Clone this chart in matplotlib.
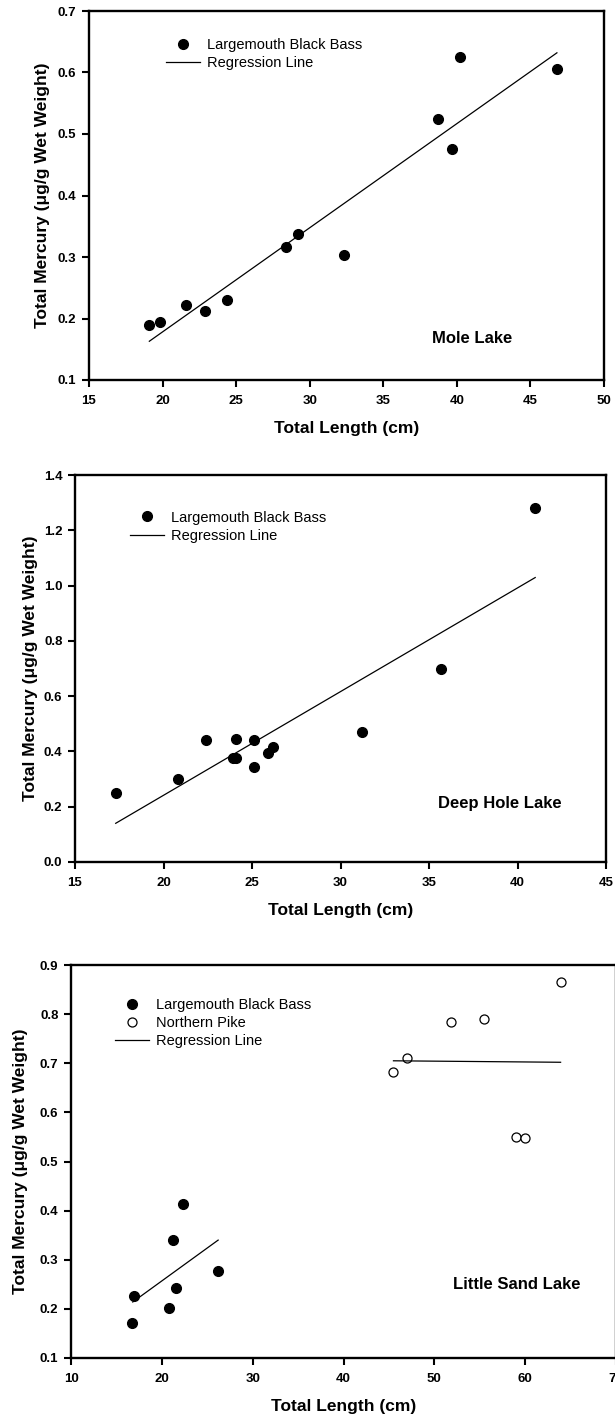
import matplotlib
matplotlib.use("Agg")
import matplotlib.pyplot as plt
from matplotlib.lines import Line2D
from matplotlib.ticker import FormatStrFormatter, MultipleLocator

plt.rcParams['font.family'] = ['Liberation Sans', 'DejaVu Sans']

# Mole Lake - largemouth black bass
mole_len = [19.1, 19.8, 21.6, 22.9, 24.4, 28.4, 29.2, 32.3, 38.7, 39.7, 40.2, 46.8]
mole_hg = [0.189, 0.195, 0.222, 0.212, 0.230, 0.316, 0.337, 0.303, 0.524, 0.475, 0.625, 0.606]
mole_fit_len = [19.1, 46.8]
mole_fit_hg = [0.163, 0.632]

# Deep Hole Lake - largemouth black bass
deep_len = [17.3, 20.8, 22.4, 23.9, 24.1, 24.1, 25.1, 25.1, 25.9, 26.2, 31.2, 35.7, 41.0]
deep_hg = [0.251, 0.300, 0.442, 0.377, 0.375, 0.446, 0.442, 0.345, 0.396, 0.415, 0.469, 0.698, 1.279]
deep_fit_len = [17.3, 41.0]
deep_fit_hg = [0.140, 1.029]

# Little Sand Lake - bass and pike
sand_bass_len = [16.7, 16.9, 20.8, 21.2, 21.6, 22.3, 26.2]
sand_bass_hg = [0.171, 0.226, 0.201, 0.340, 0.243, 0.414, 0.278]
sand_bass_fit_len = [16.8, 26.2]
sand_bass_fit_hg = [0.214, 0.340]
sand_pike_len = [45.5, 47.0, 51.8, 55.5, 59.0, 60.0, 63.9]
sand_pike_hg = [0.683, 0.710, 0.784, 0.790, 0.549, 0.547, 0.865]
sand_pike_fit_len = [45.5, 63.9]
sand_pike_fit_hg = [0.705, 0.702]

W, H = 615, 1425
fig = plt.figure(figsize=(W / 100, H / 100), dpi=100)


def px_axes(left, top, right, bottom):
    return fig.add_axes([left / W, 1 - bottom / H, (right - left) / W, (bottom - top) / H])


def style_axes(ax, xlim, ylim, xstep, ystep, yfmt):
    ax.set_xlim(*xlim)
    ax.set_ylim(*ylim)
    ax.xaxis.set_major_locator(MultipleLocator(xstep))
    ax.yaxis.set_major_locator(MultipleLocator(ystep))
    ax.yaxis.set_major_formatter(FormatStrFormatter(yfmt))
    for s in ax.spines.values():
        s.set_linewidth(1.7)
    ax.tick_params(direction='out', length=5, width=1.5, labelsize=9.5)
    ax.tick_params(axis='x', pad=6)
    ax.tick_params(axis='y', pad=4)
    for lab in ax.get_xticklabels() + ax.get_yticklabels():
        lab.set_fontweight('bold')
    ax.set_xlabel('Total Length (cm)', fontsize=12.5, fontweight='bold', labelpad=10)
    ax.set_ylabel('Total Mercury (\u03bcg/g Wet Weight)', fontsize=12.5, fontweight='bold')


bass_h = Line2D([], [], marker='o', color='black', linestyle='none', markersize=7)
pike_h = Line2D([], [], marker='o', markerfacecolor='white', markeredgecolor='black',
                markeredgewidth=0.9, linestyle='none', markersize=6.5)
reg_h = Line2D([], [], color='black', lw=0.9)


def add_legend(ax, handles, labels, x, y):
    ax.legend(handles, labels, loc='upper left', bbox_to_anchor=(x, y), frameon=False,
              fontsize=10.5, handlelength=2.3, handletextpad=0.5, labelspacing=0.3,
              borderpad=0, borderaxespad=0)


# Panel 1
ax1 = px_axes(89, 11, 604, 380)
ax1.plot(mole_len, mole_hg, 'o', color='black', markersize=7)
ax1.plot(mole_fit_len, mole_fit_hg, color='black', lw=0.9)
style_axes(ax1, (15, 50), (0.1, 0.7), 5, 0.1, '%.1f')
ax1.yaxis.set_label_coords(-0.075, 0.5)
add_legend(ax1, [bass_h, reg_h], ['Largemouth Black Bass', 'Regression Line'], 0.15, 0.927)
ax1.text(0.743, 0.113, 'Mole Lake', transform=ax1.transAxes, ha='center', va='center',
         fontsize=12, fontweight='bold')

# Panel 2
ax2 = px_axes(75, 475, 606, 862)
ax2.plot(deep_len, deep_hg, 'o', color='black', markersize=7)
ax2.plot(deep_fit_len, deep_fit_hg, color='black', lw=0.9)
style_axes(ax2, (15, 45), (0.0, 1.4), 5, 0.2, '%.1f')
ax2.yaxis.set_label_coords(-0.07, 0.5)
add_legend(ax2, [bass_h, reg_h], ['Largemouth Black Bass', 'Regression Line'], 0.104, 0.908)
ax2.text(0.80, 0.15, 'Deep Hole Lake', transform=ax2.transAxes, ha='center', va='center',
         fontsize=12, fontweight='bold')

# Panel 3
ax3 = px_axes(71, 965, 616, 1358)
ax3.plot(sand_bass_len, sand_bass_hg, 'o', color='black', markersize=7)
ax3.plot(sand_bass_fit_len, sand_bass_fit_hg, color='black', lw=0.9)
ax3.plot(sand_pike_len, sand_pike_hg, 'o', markerfacecolor='white', markeredgecolor='black',
         markeredgewidth=0.9, markersize=6.5)
ax3.plot(sand_pike_fit_len, sand_pike_fit_hg, color='black', lw=0.9)
style_axes(ax3, (10, 70), (0.1, 0.9), 10, 0.1, '%.1f')
ax3.yaxis.set_label_coords(-0.079, 0.5)
add_legend(ax3, [bass_h, pike_h, reg_h], ['Largemouth Black Bass', 'Northern Pike', 'Regression Line'],
           0.081, 0.917)
ax3.text(0.817, 0.186, 'Little Sand Lake', transform=ax3.transAxes, ha='center', va='center',
         fontsize=12, fontweight='bold')

fig.savefig('out.png', dpi=100)
